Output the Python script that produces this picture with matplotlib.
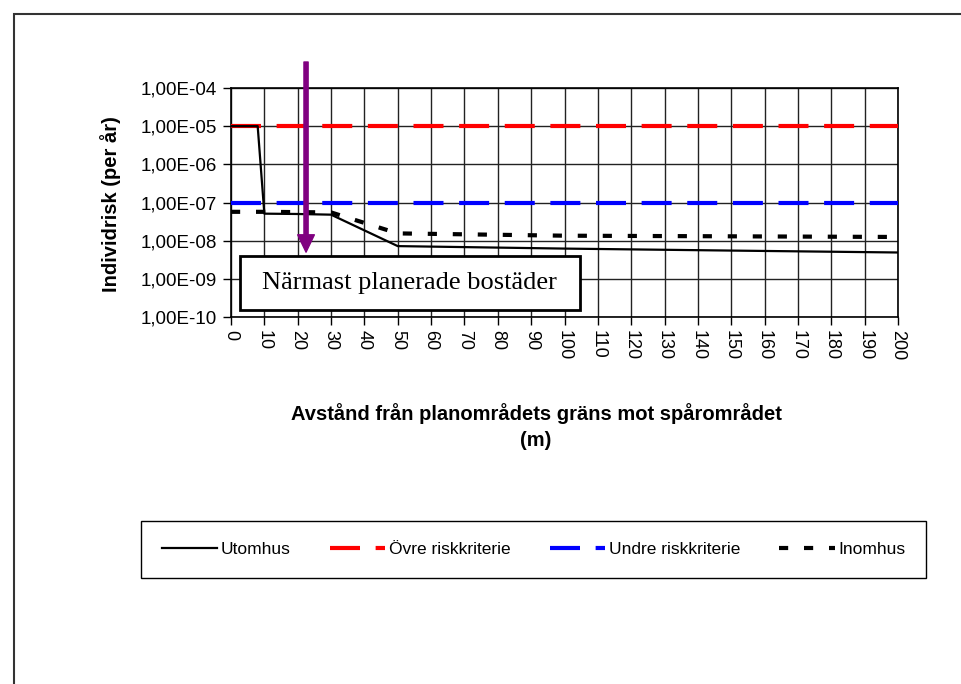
import matplotlib
matplotlib.use("Agg")
import matplotlib.pyplot as plt
import matplotlib.transforms as mtransforms
from matplotlib.patches import Rectangle
from matplotlib.ticker import FixedLocator, NullLocator

plt.rcParams['font.family'] = ['Liberation Sans', 'DejaVu Sans']

# data
x_ute = [0, 8, 10, 20, 30, 50, 100, 150, 200]
risk_ute = [1e-5, 1e-5, 5.1e-8, 5.0e-8, 4.8e-8, 7.2e-9, 6.2e-9, 5.5e-9, 4.9e-9]
x_inne = [0, 10, 20, 30, 50, 100, 150, 200]
risk_inne = [5.7e-8, 5.7e-8, 5.6e-8, 5.5e-8, 1.55e-8, 1.35e-8, 1.3e-8, 1.25e-8]
x_krit = [0, 200]
ovre = [1e-5, 1e-5]
undre = [1e-7, 1e-7]
ytick_vals = [1e-10, 1e-9, 1e-8, 1e-7, 1e-6, 1e-5, 1e-4]
ytick_labels = ['1,00E-10', '1,00E-09', '1,00E-08', '1,00E-07', '1,00E-06', '1,00E-05', '1,00E-04']
xtick_vals = list(range(0, 201, 10))
arrow_x = 22.5
arrow_tip = 5e-9

W, H = 961, 684
fig = plt.figure(figsize=(W / 100, H / 100), dpi=100)
ax = fig.add_axes([231 / W, 1 - 317 / H, (898 - 231) / W, (317 - 88) / H])

# outer chart frame (partially off-canvas)
fig.patches.append(Rectangle((14 / W, -0.05), 1.1, 1 - 14 / H + 0.05, transform=fig.transFigure,
                             fill=False, edgecolor='#333333', lw=1.5))

ax.plot(x_ute, risk_ute, color='black', lw=1.6, label='Utomhus', zorder=4)
ax.plot(x_krit, ovre, color='red', lw=3, dashes=(7.2, 3.75), label='Övre riskkriterie', zorder=3)
ax.plot(x_krit, undre, color='blue', lw=3, dashes=(7.2, 3.75), label='Undre riskkriterie', zorder=3)
ax.plot(x_inne, risk_inne, color='black', lw=3, dashes=(2.2, 3.8), label='Inomhus', zorder=3)

ax.set_yscale('log')
ax.set_ylim(1e-10, 1e-4)
ax.set_xlim(0, 200)
ax.yaxis.set_major_locator(FixedLocator(ytick_vals))
ax.yaxis.set_minor_locator(NullLocator())
ax.set_yticklabels(ytick_labels, fontsize=13.5)
ax.set_xticks(xtick_vals)
ax.set_xticklabels([str(v) for v in xtick_vals], rotation=-90, fontsize=13)
ax.tick_params(direction='out', length=6, width=1, color='black')
ax.tick_params(axis='y', pad=4)
ax.grid(True, color='#222222', lw=1, zorder=1)
ax.set_axisbelow(True)
for s in ax.spines.values():
    s.set_color('black')
    s.set_linewidth(1.2)

ax.set_ylabel('Individrisk (per år)', fontsize=14.5, fontweight='bold')
ax.yaxis.set_label_coords((121 - 231) / (898 - 231), (317 - 204) / (317 - 88))
fig.text(536 / W, 1 - 414 / H, 'Avstånd från planområdets gräns mot spårområdet', ha='center',
         va='center', fontsize=14.5, fontweight='bold')
fig.text(536 / W, 1 - 441 / H, '(m)', ha='center', va='center', fontsize=14.5, fontweight='bold')

# purple arrow, starting above the plot area
trans = mtransforms.blended_transform_factory(ax.transData, fig.transFigure)
ax.annotate('', xy=(arrow_x, arrow_tip), xytext=(arrow_x, 1 - 62 / H), textcoords=trans,
            arrowprops=dict(width=3, headwidth=12, headlength=12.5, facecolor='#800080',
                            edgecolor='#800080', shrink=0), zorder=6, annotation_clip=False)

# label box
fig.patches.append(Rectangle((240 / W, 1 - 310 / H), 340 / W, 54 / H, transform=fig.transFigure,
                             facecolor='white', edgecolor='black', lw=2, zorder=5))
fig.text(409 / W, 1 - 283 / H, 'Närmast planerade bostäder', ha='center', va='center',
         fontsize=19, family='Liberation Serif', zorder=6)

fig.legend(loc='lower left', bbox_to_anchor=(141 / W, 1 - 578 / H, 785 / W, 60 / H), mode='expand',
           ncol=4, fancybox=False, edgecolor='black', fontsize=12.5, handlelength=3.2,
           handletextpad=0.2, borderaxespad=0, borderpad=1.2, framealpha=1)

fig.savefig('out.png', dpi=100)
